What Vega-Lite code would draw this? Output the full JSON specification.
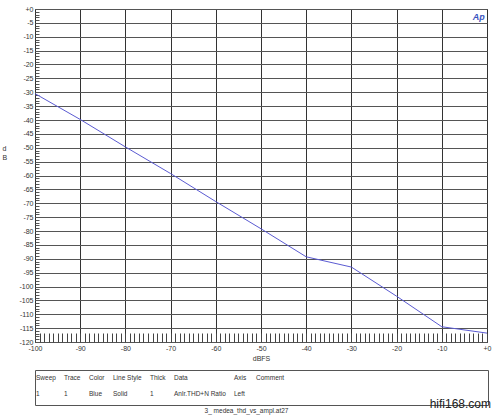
{
  "$schema": "https://vega.github.io/schema/vega-lite/v6.json",
  "background": "white",
  "padding": {"left": 1, "top": 4, "right": 5, "bottom": 2},
  "spacing": 7,
  "config": {
    "font": "Liberation Sans",
    "view": {"stroke": "#444", "strokeWidth": 1},
    "axis": {"labelFont": "Liberation Sans", "titleFont": "Liberation Sans"}
  },
  "datasets": {
    "thd": [
      {"dbfs": -100, "ratio": -30.5},
      {"dbfs": -90, "ratio": -39.8},
      {"dbfs": -80, "ratio": -49.7},
      {"dbfs": -70, "ratio": -59.3},
      {"dbfs": -60, "ratio": -69.4},
      {"dbfs": -50, "ratio": -79.2},
      {"dbfs": -40, "ratio": -89.3},
      {"dbfs": -30, "ratio": -93.0},
      {"dbfs": -20, "ratio": -103.5},
      {"dbfs": -10, "ratio": -114.5},
      {"dbfs": 0, "ratio": -116.8}
    ],
    "table": [
      {"col": 0, "row": 0, "text": "Sweep"},
      {"col": 1, "row": 0, "text": "Trace"},
      {"col": 2, "row": 0, "text": "Color"},
      {"col": 3, "row": 0, "text": "Line Style"},
      {"col": 4, "row": 0, "text": "Thick"},
      {"col": 5, "row": 0, "text": "Data"},
      {"col": 6, "row": 0, "text": "Axis"},
      {"col": 7, "row": 0, "text": "Comment"},
      {"col": 0, "row": 1, "text": "1"},
      {"col": 1, "row": 1, "text": "1"},
      {"col": 2, "row": 1, "text": "Blue"},
      {"col": 3, "row": 1, "text": "Solid"},
      {"col": 4, "row": 1, "text": "1"},
      {"col": 5, "row": 1, "text": "Anlr.THD+N Ratio"},
      {"col": 6, "row": 1, "text": "Left"}
    ],
    "wm": [{"col": 8, "row": 2, "text": "hifi168.com"}],
    "logo": [{"dbfs": -1.8, "ratio": -2.9, "text": "Ap"}]
  },
  "vconcat": [
    {
      "width": 452,
      "height": 333,
      "layer": [
        {
          "data": {"name": "thd"},
          "mark": {"type": "line", "color": "#5b5bd2", "strokeWidth": 1},
          "encoding": {
            "x": {
              "field": "dbfs",
              "type": "quantitative",
              "scale": {"domain": [-100, 0], "nice": false, "zero": false},
              "axis": {
                "values": [-100,-99,-98,-97,-96,-95,-94,-93,-92,-91,-90,-89,-88,-87,-86,-85,-84,-83,-82,-81,-80,-79,-78,-77,-76,-75,-74,-73,-72,-71,-70,-69,-68,-67,-66,-65,-64,-63,-62,-61,-60,-59,-58,-57,-56,-55,-54,-53,-52,-51,-50,-49,-48,-47,-46,-45,-44,-43,-42,-41,-40,-39,-38,-37,-36,-35,-34,-33,-32,-31,-30,-29,-28,-27,-26,-25,-24,-23,-22,-21,-20,-19,-18,-17,-16,-15,-14,-13,-12,-11,-10,-9,-8,-7,-6,-5,-4,-3,-2,-1,0],
                "tickCount": 500,
                "labelExpr": "datum.value % 10 === 0 ? (datum.value === 0 ? '+0' : '' + datum.value) : ''",
                "labelOverlap": false,
                "labelFlush": false,
                "labelFontSize": 7,
                "labelColor": "#333",
                "labelPadding": 11,
                "tickSize": -9,
                "tickColor": "#444",
                "tickWidth": 1,
                "domain": false,
                "grid": true,
                "gridColor": "#333",
                "gridWidth": 1,
                "gridOpacity": {"condition": {"test": "datum.value % 10 === 0", "value": 1}, "value": 0},
                "title": "dBFS",
                "titleFontSize": 7,
                "titleFontWeight": "normal",
                "titleColor": "#333",
                "titlePadding": 3
              }
            },
            "y": {
              "field": "ratio",
              "type": "quantitative",
              "scale": {"domain": [-120, 0], "nice": false, "zero": false},
              "axis": {
                "values": [-120,-119,-118,-117,-116,-115,-114,-113,-112,-111,-110,-109,-108,-107,-106,-105,-104,-103,-102,-101,-100,-99,-98,-97,-96,-95,-94,-93,-92,-91,-90,-89,-88,-87,-86,-85,-84,-83,-82,-81,-80,-79,-78,-77,-76,-75,-74,-73,-72,-71,-70,-69,-68,-67,-66,-65,-64,-63,-62,-61,-60,-59,-58,-57,-56,-55,-54,-53,-52,-51,-50,-49,-48,-47,-46,-45,-44,-43,-42,-41,-40,-39,-38,-37,-36,-35,-34,-33,-32,-31,-30,-29,-28,-27,-26,-25,-24,-23,-22,-21,-20,-19,-18,-17,-16,-15,-14,-13,-12,-11,-10,-9,-8,-7,-6,-5,-4,-3,-2,-1,0],
                "tickCount": 500,
                "labelExpr": "datum.value % 5 === 0 ? (datum.value === 0 ? '+0' : '' + datum.value) : ''",
                "labelOverlap": false,
                "labelFlush": false,
                "labelFontSize": 7,
                "labelColor": "#333",
                "labelPadding": 6,
                "tickSize": -4,
                "tickColor": "#555",
                "tickWidth": 1,
                "domain": false,
                "grid": true,
                "gridColor": "#555",
                "gridWidth": 1,
                "gridOpacity": {"condition": {"test": "datum.value % 5 === 0", "value": 1}, "value": 0},
                "title": ["d", "B"],
                "titleAngle": 0,
                "titleAlign": "left",
                "titleBaseline": "top",
                "titleX": -33,
                "titleY": 135,
                "titleFontSize": 7,
                "titleFontWeight": "normal",
                "titleColor": "#333",
                "titleLineHeight": 9
              }
            }
          }
        },
        {
          "data": {"name": "logo"},
          "mark": {"type": "text", "fontStyle": "italic", "fontWeight": "bold", "fontSize": 9, "color": "#3a55c0", "align": "center", "baseline": "middle"},
          "encoding": {
            "x": {"field": "dbfs", "type": "quantitative"},
            "y": {"field": "ratio", "type": "quantitative"},
            "text": {"field": "text"}
          }
        }
      ]
    },
    {
      "width": 453,
      "height": 35,
      "view": {"stroke": "#555"},
      "title": {"text": "3_ medea_thd_vs_ampl.at27", "orient": "bottom", "fontSize": 6.5, "fontWeight": "normal", "color": "#333", "offset": -2, "dx": -15},
      "layer": [
        {
          "data": {"name": "table"},
          "mark": {"type": "text", "align": "left", "baseline": "middle", "fontSize": 6.5, "color": "#333"},
          "encoding": {
            "x": {"field": "col", "type": "quantitative", "scale": {"domain": [0, 1, 2, 3, 4, 5, 6, 7, 8], "range": [1, 29, 54, 78, 115, 139, 199, 221, 456]}, "axis": null},
            "y": {"field": "row", "type": "quantitative", "scale": {"domain": [0, 1, 2], "range": [8, 24, 34]}, "axis": null},
            "text": {"field": "text"}
          }
        },
        {
          "data": {"name": "wm"},
          "mark": {"type": "text", "align": "right", "baseline": "middle", "fontSize": 12, "color": "#222"},
          "encoding": {
            "x": {"field": "col", "type": "quantitative"},
            "y": {"field": "row", "type": "quantitative"},
            "text": {"field": "text"}
          }
        }
      ]
    }
  ]
}
